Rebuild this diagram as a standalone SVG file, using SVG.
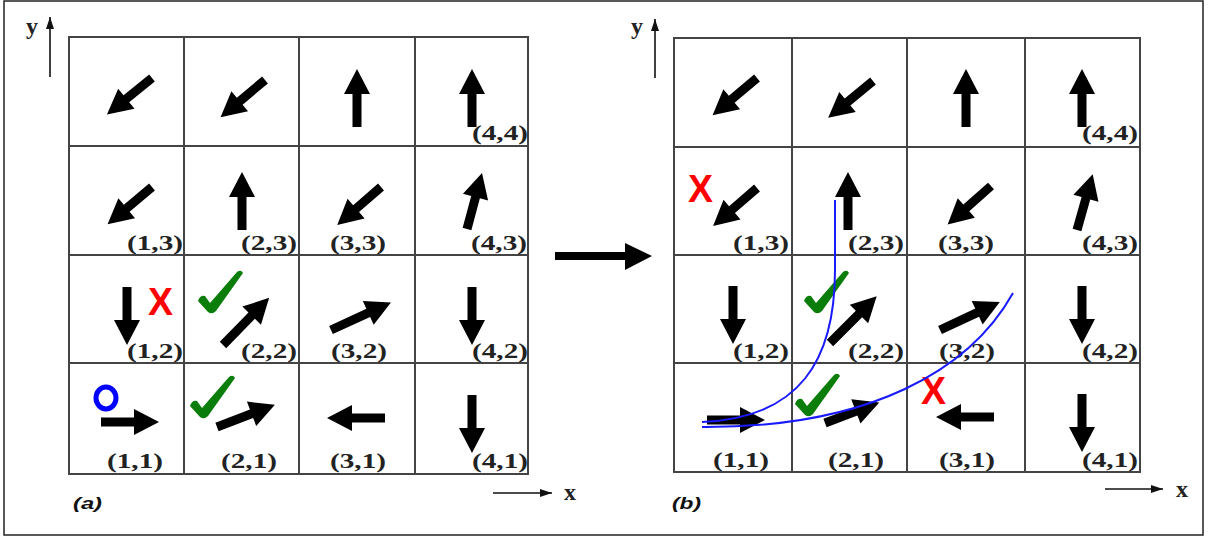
<svg xmlns="http://www.w3.org/2000/svg" xmlns:xlink="http://www.w3.org/1999/xlink" width="1219" height="539" viewBox="0 0 1219 539">
<style>
.grid{fill:none;stroke:#444;stroke-width:2}
.lbl{font-family:"Liberation Serif",serif;font-weight:bold;font-size:22px;fill:#222}
.ax{stroke:#111;stroke-width:1.6;fill:none}
.axl{font-family:"Liberation Serif",serif;font-weight:bold;font-size:24px;fill:#222}
.xm{font-family:"Liberation Sans",Arial,sans-serif;font-weight:bold;font-size:38px;fill:#ff0000}
.chk{fill:#0b7d0b}
.path{fill:none;stroke:#1a1aff;stroke-width:2}
.cap{font-family:"Liberation Sans",Arial,sans-serif;font-weight:bold;font-style:italic;font-size:17px;fill:#111}
</style>
<defs>
<path id="a58" d="M0,-4.5 H33 V-13 L58,0 L33,13 V4.5 H0 Z" fill="#000"/>
<path id="a62" d="M0,-4.5 H37 V-13 L62,0 L37,13 V4.5 H0 Z" fill="#000"/>
<path id="a66" d="M0,-4.5 H41 V-13 L66,0 L41,13 V4.5 H0 Z" fill="#000"/>
<path id="chk" d="M-13,-11 Q-11,-17 -6,-16 L-1,-9 L26,-40 Q30,-43 32,-39 L5,-1 Q1,3 -3,0 Z"/>
<marker id="ah" viewBox="0 0 12 8" refX="12" refY="4" markerWidth="12" markerHeight="8" markerUnits="userSpaceOnUse" orient="auto"><path d="M0,0 L12,4 L0,8 Z" fill="#111"/></marker>
</defs>
<rect x="4" y="1" width="1199" height="534" fill="#fff" stroke="#222" stroke-width="1.5"/>

<!-- Panel (a) -->
<g id="panel-a">
<g id="grid-a" class="grid">
<rect x="69" y="37" width="459" height="437"/>
<line x1="184" y1="37" x2="184" y2="474"/><line x1="299" y1="37" x2="299" y2="474"/><line x1="415" y1="37" x2="415" y2="474"/>
<line x1="69" y1="146" x2="528" y2="146"/><line x1="69" y1="255" x2="528" y2="255"/><line x1="69" y1="363" x2="528" y2="363"/>
</g>
<g id="a-axes">
<line class="ax" x1="50" y1="77" x2="50" y2="17" marker-end="url(#ah)"/>
<text class="axl" x="26" y="34">y</text>
<line class="ax" x1="493" y1="493" x2="552" y2="493" marker-end="url(#ah)"/>
<text class="axl" x="564" y="500">x</text>
</g>
<g id="a-1-4"><use xlink:href="#a58" transform="translate(152,78) rotate(141)"/></g>
<g id="a-2-4"><use xlink:href="#a58" transform="translate(265,80) rotate(140)"/></g>
<g id="a-3-4"><use xlink:href="#a58" transform="translate(357,127) rotate(-90)"/></g>
<g id="a-4-4"><use xlink:href="#a58" transform="translate(472,127) rotate(-90)"/><text class="lbl" x="472" y="140" textLength="56" lengthAdjust="spacingAndGlyphs">(4,4)</text></g>
<g id="a-1-3"><use xlink:href="#a58" transform="translate(152,187) rotate(140)"/><text class="lbl" x="127" y="250" textLength="56" lengthAdjust="spacingAndGlyphs">(1,3)</text></g>
<g id="a-2-3"><use xlink:href="#a58" transform="translate(242,230) rotate(-90)"/><text class="lbl" x="241" y="250" textLength="56" lengthAdjust="spacingAndGlyphs">(2,3)</text></g>
<g id="a-3-3"><use xlink:href="#a58" transform="translate(381,187) rotate(139)"/><text class="lbl" x="330" y="250" textLength="56" lengthAdjust="spacingAndGlyphs">(3,3)</text></g>
<g id="a-4-3"><use xlink:href="#a58" transform="translate(467,229) rotate(-75)"/><text class="lbl" x="471" y="250" textLength="56" lengthAdjust="spacingAndGlyphs">(4,3)</text></g>
<g id="a-1-2"><use xlink:href="#a58" transform="translate(127,287) rotate(90)"/><text class="xm" x="148" y="315" textLength="25" lengthAdjust="spacingAndGlyphs">X</text><text class="lbl" x="127" y="358" textLength="56" lengthAdjust="spacingAndGlyphs">(1,2)</text></g>
<g id="a-2-2"><use class="chk" xlink:href="#chk" transform="translate(211,312)"/><use xlink:href="#a66" transform="translate(223,345) rotate(-45.6)"/><text class="lbl" x="241" y="358" textLength="56" lengthAdjust="spacingAndGlyphs">(2,2)</text></g>
<g id="a-3-2"><use xlink:href="#a66" transform="translate(331,330) rotate(-24.7)"/><text class="lbl" x="331" y="358" textLength="56" lengthAdjust="spacingAndGlyphs">(3,2)</text></g>
<g id="a-4-2"><use xlink:href="#a58" transform="translate(472,287) rotate(90)"/><text class="lbl" x="472" y="358" textLength="56" lengthAdjust="spacingAndGlyphs">(4,2)</text></g>
<g id="a-1-1"><ellipse cx="106" cy="398" rx="10" ry="11" fill="none" stroke="#0000ff" stroke-width="5"/><use xlink:href="#a58" transform="translate(101,422)"/><text class="lbl" x="107" y="468" textLength="56" lengthAdjust="spacingAndGlyphs">(1,1)</text></g>
<g id="a-2-1"><use class="chk" xlink:href="#chk" transform="translate(203,417)"/><use xlink:href="#a62" transform="translate(217,427) rotate(-21)"/><text class="lbl" x="221" y="468" textLength="56" lengthAdjust="spacingAndGlyphs">(2,1)</text></g>
<g id="a-3-1"><use xlink:href="#a58" transform="translate(385,418) rotate(180)"/><text class="lbl" x="330" y="468" textLength="56" lengthAdjust="spacingAndGlyphs">(3,1)</text></g>
<g id="a-4-1"><use xlink:href="#a58" transform="translate(472,395) rotate(90)"/><text class="lbl" x="472" y="468" textLength="56" lengthAdjust="spacingAndGlyphs">(4,1)</text></g>
<text class="cap" x="73" y="509" textLength="29" lengthAdjust="spacingAndGlyphs">(a)</text>
</g>

<!-- Panel (b) -->
<g id="panel-b">
<g id="grid-b" class="grid">
<rect x="674" y="38" width="466" height="434"/>
<line x1="792" y1="38" x2="792" y2="472"/><line x1="907" y1="38" x2="907" y2="472"/><line x1="1025" y1="38" x2="1025" y2="472"/>
<line x1="674" y1="147" x2="1140" y2="147"/><line x1="674" y1="255" x2="1140" y2="255"/><line x1="674" y1="363" x2="1140" y2="363"/>
</g>
<g id="b-axes">
<line class="ax" x1="655" y1="78" x2="655" y2="19" marker-end="url(#ah)"/>
<text class="axl" x="631" y="34">y</text>
<line class="ax" x1="1105" y1="489" x2="1163" y2="489" marker-end="url(#ah)"/>
<text class="axl" x="1176" y="497">x</text>
</g>
<g id="b-1-4"><use xlink:href="#a58" transform="translate(757,78) rotate(140)"/></g>
<g id="b-2-4"><use xlink:href="#a58" transform="translate(873,81) rotate(140.6)"/></g>
<g id="b-3-4"><use xlink:href="#a58" transform="translate(966,127) rotate(-90)"/></g>
<g id="b-4-4"><use xlink:href="#a58" transform="translate(1082,127) rotate(-90)"/><text class="lbl" x="1082" y="140" textLength="56" lengthAdjust="spacingAndGlyphs">(4,4)</text></g>
<g id="b-1-3"><text class="xm" x="688" y="202" textLength="25" lengthAdjust="spacingAndGlyphs">X</text><use xlink:href="#a58" transform="translate(757,188) rotate(139.2)"/><text class="lbl" x="733" y="250" textLength="56" lengthAdjust="spacingAndGlyphs">(1,3)</text></g>
<g id="b-2-3"><use xlink:href="#a58" transform="translate(848,230) rotate(-90)"/><text class="lbl" x="848" y="250" textLength="56" lengthAdjust="spacingAndGlyphs">(2,3)</text></g>
<g id="b-3-3"><use xlink:href="#a58" transform="translate(991,186) rotate(138.4)"/><text class="lbl" x="938" y="250" textLength="56" lengthAdjust="spacingAndGlyphs">(3,3)</text></g>
<g id="b-4-3"><use xlink:href="#a58" transform="translate(1077,230) rotate(-74.3)"/><text class="lbl" x="1082" y="250" textLength="56" lengthAdjust="spacingAndGlyphs">(4,3)</text></g>
<g id="b-1-2"><use xlink:href="#a58" transform="translate(733,286) rotate(90)"/><text class="lbl" x="733" y="358" textLength="56" lengthAdjust="spacingAndGlyphs">(1,2)</text></g>
<g id="b-2-2"><use class="chk" xlink:href="#chk" transform="translate(817,312)"/><use xlink:href="#a66" transform="translate(830,343) rotate(-45)"/><text class="lbl" x="848" y="358" textLength="56" lengthAdjust="spacingAndGlyphs">(2,2)</text></g>
<g id="b-3-2"><use xlink:href="#a66" transform="translate(940,330) rotate(-25)"/><text class="lbl" x="939" y="358" textLength="56" lengthAdjust="spacingAndGlyphs">(3,2)</text></g>
<g id="b-4-2"><use xlink:href="#a58" transform="translate(1082,286) rotate(90)"/><text class="lbl" x="1082" y="358" textLength="56" lengthAdjust="spacingAndGlyphs">(4,2)</text></g>
<g id="b-1-1"><use xlink:href="#a58" transform="translate(707,420)"/><text class="lbl" x="713" y="467" textLength="56" lengthAdjust="spacingAndGlyphs">(1,1)</text></g>
<g id="b-2-1"><use class="chk" xlink:href="#chk" transform="translate(808,415)"/><use xlink:href="#a58" transform="translate(825,423) rotate(-20.7)"/><text class="lbl" x="828" y="467" textLength="56" lengthAdjust="spacingAndGlyphs">(2,1)</text></g>
<g id="b-3-1"><text class="xm" x="921" y="404" textLength="25" lengthAdjust="spacingAndGlyphs">X</text><use xlink:href="#a58" transform="translate(994,417) rotate(180)"/><text class="lbl" x="939" y="467" textLength="56" lengthAdjust="spacingAndGlyphs">(3,1)</text></g>
<g id="b-4-1"><use xlink:href="#a58" transform="translate(1082,394) rotate(90)"/><text class="lbl" x="1082" y="467" textLength="56" lengthAdjust="spacingAndGlyphs">(4,1)</text></g>
<text class="cap" x="672" y="509" textLength="29" lengthAdjust="spacingAndGlyphs">(b)</text>
</g>

<g id="connectors">
<path id="big-arrow" d="M555,252 H625 V243 L652,256 L625,270 V260 H555 Z" fill="#000"/>
<path class="path" d="M702,422 C800,418 835,360 835,270 L835,200"/>
<path class="path" d="M702,427 C870,428 970,370 1013,293"/>
</g>
</svg>
